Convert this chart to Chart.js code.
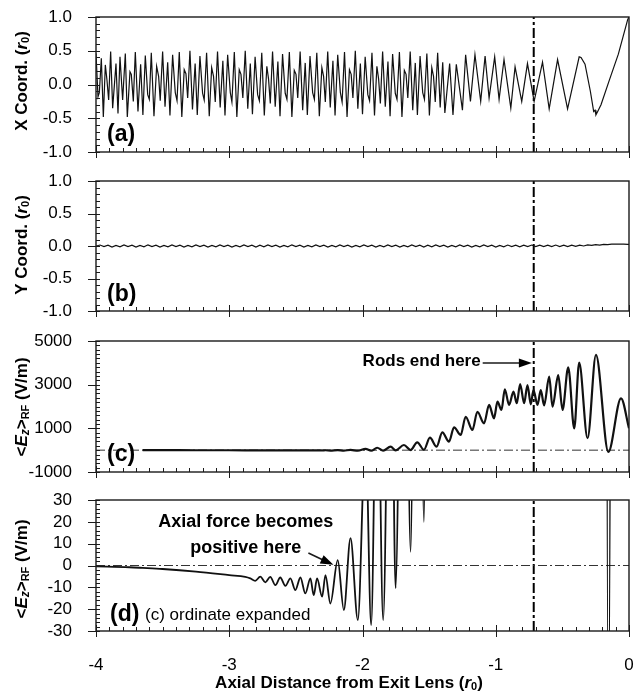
<!DOCTYPE html>
<html>
<head>
<meta charset="utf-8">
<script src="https://cdn.jsdelivr.net/npm/chart.js@4.4.1/dist/chart.umd.min.js"></script>
<style>
  body { margin: 0; background: #fff; }
  canvas { position: absolute; left: 0; top: 0; }
</style>
</head>
<body>
<canvas id="panelA" width="636" height="693"></canvas>
<canvas id="panelB" width="636" height="693"></canvas>
<canvas id="panelC" width="636" height="693"></canvas>
<canvas id="panelD" width="636" height="693"></canvas>
<script>
// axial distance from exit lens (r0)
const xMin = -4, xMax = 0;
const xTicks = [-4, -3, -2, -1, 0];
const rodsEndX = -0.715;   // rods end here

const yTicksA = [-1, -0.5, 0, 0.5, 1];
const yTicksB = [-1, -0.5, 0, 0.5, 1];
const yTicksC = [-1000, 1000, 3000, 5000];
const yTicksD = [-30, -20, -10, 0, 10, 20, 30];

// (a) X coordinate (r0): [axial, x]
const xCoordPts = [
  [-4.000,0.46],[-3.985,-0.18],[-3.975,-0.12],[-3.960,0.39],[-3.945,-0.48],[-3.930,0.29],[-3.918,0.07],[-3.905,-0.23],
  [-3.890,0.49],[-3.875,-0.35],[-3.850,0.31],[-3.835,-0.43],[-3.820,0.41],[-3.800,-0.23],[-3.780,0.46],[-3.765,-0.48],
  [-3.745,0.19],[-3.735,0.15],[-3.720,-0.25],[-3.705,0.48],[-3.685,-0.40],[-3.665,0.30],[-3.648,-0.45],[-3.630,0.43],
  [-3.612,-0.15],[-3.600,-0.22],[-3.585,0.47],[-3.565,-0.47],[-3.545,0.27],[-3.530,0.12],[-3.518,-0.24],[-3.500,0.49],
  [-3.482,-0.33],[-3.462,0.33],[-3.445,-0.46],[-3.425,0.44],[-3.405,-0.12],[-3.392,-0.24],[-3.375,0.48],[-3.356,-0.48],
  [-3.338,0.22],[-3.325,0.16],[-3.312,-0.20],[-3.295,0.50],[-3.276,-0.37],[-3.256,0.31],[-3.240,-0.45],[-3.220,0.42],
  [-3.200,-0.13],[-3.188,-0.23],[-3.170,0.47],[-3.150,-0.47],[-3.132,0.25],[-3.118,0.12],[-3.105,-0.26],[-3.088,0.49],
  [-3.068,-0.34],[-3.048,0.35],[-3.032,-0.46],[-3.012,0.44],[-2.992,-0.12],[-2.980,-0.26],[-2.962,0.48],[-2.943,-0.48],
  [-2.925,0.22],[-2.912,0.15],[-2.898,-0.20],[-2.880,0.50],[-2.861,-0.36],[-2.842,0.31],[-2.826,-0.44],[-2.806,0.41],
  [-2.787,-0.15],[-2.774,-0.24],[-2.756,0.47],[-2.737,-0.46],[-2.718,0.27],[-2.705,0.08],[-2.692,-0.28],[-2.675,0.49],
  [-2.655,-0.33],[-2.635,0.34],[-2.619,-0.47],[-2.600,0.45],[-2.580,-0.13],[-2.567,-0.22],[-2.549,0.48],[-2.530,-0.48],
  [-2.512,0.21],[-2.499,0.15],[-2.486,-0.20],[-2.468,0.49],[-2.449,-0.38],[-2.430,0.32],[-2.414,-0.45],[-2.394,0.42],
  [-2.374,-0.12],[-2.361,-0.22],[-2.343,0.47],[-2.324,-0.47],[-2.305,0.25],[-2.292,0.12],[-2.279,-0.26],[-2.261,0.49],
  [-2.242,-0.34],[-2.222,0.35],[-2.206,-0.46],[-2.186,0.44],[-2.166,-0.12],[-2.153,-0.26],[-2.135,0.48],[-2.116,-0.48],
  [-2.098,0.22],[-2.085,0.15],[-2.072,-0.20],[-2.054,0.50],[-2.035,-0.36],[-2.016,0.31],[-2.000,-0.44],[-1.980,0.41],
  [-1.960,-0.15],[-1.947,-0.24],[-1.929,0.47],[-1.910,-0.46],[-1.892,0.27],[-1.879,0.08],[-1.866,-0.28],[-1.849,0.49],
  [-1.829,-0.33],[-1.809,0.34],[-1.793,-0.47],[-1.774,0.45],[-1.754,-0.13],[-1.741,-0.22],[-1.723,0.48],[-1.704,-0.48],
  [-1.686,0.21],[-1.673,0.15],[-1.660,-0.20],[-1.642,0.49],[-1.623,-0.38],[-1.604,0.32],[-1.588,-0.45],[-1.568,0.42],
  [-1.548,-0.12],[-1.535,-0.22],[-1.517,0.46],[-1.498,-0.46],[-1.480,0.25],[-1.467,0.12],[-1.454,-0.26],[-1.436,0.47],
  [-1.417,-0.34],[-1.398,0.33],[-1.382,-0.42],[-1.346,0.31],[-1.321,-0.45],[-1.296,0.30],[-1.250,-0.38],[-1.226,0.44],
  [-1.190,-0.25],[-1.156,0.44],[-1.113,-0.25],[-1.080,0.42],[-1.050,-0.20],[-1.008,0.41],[-0.975,-0.22],[-0.938,0.37],
  [-0.887,-0.35],[-0.855,0.26],[-0.805,-0.25],[-0.762,0.31],[-0.712,-0.25],[-0.649,0.33],[-0.599,-0.36],[-0.536,0.37],
  [-0.461,-0.36],[-0.374,0.41],[-0.360,0.40],[-0.330,0.30],[-0.290,-0.10],[-0.265,-0.40],[-0.255,-0.38],[-0.248,-0.45],
  [-0.235,-0.40],[-0.210,-0.30],[-0.150,0.05],[-0.080,0.45],[-0.010,0.96],[0.000,1.00]
];

// (b) Y coordinate (r0): [axial, y]
const yCoordPts = [
  [-4.00,0],[-3.97,0.015],[-3.94,-0.01],[-3.91,0.012],[-3.88,-0.015],[-3.85,0.01],[-3.82,-0.012],
  [-3.79,0.015],[-3.76,-0.01],[-3.73,0.012],[-3.70,-0.015],[-3.67,0.01],[-3.64,-0.012],
  [-3.61,0.018],[-3.58,-0.008],[-3.55,0.012],[-3.52,-0.015],[-3.49,0.01],[-3.46,-0.012],
  [-3.43,0.015],[-3.40,-0.01],[-3.37,0.012],[-3.34,-0.015],[-3.31,0.01],[-3.28,-0.012],
  [-3.25,0.015],[-3.22,-0.01],[-3.19,0.014],[-3.16,-0.015],[-3.13,0.01],[-3.10,-0.012],
  [-3.07,0.015],[-3.04,-0.01],[-3.01,0.012],[-2.98,-0.015],[-2.95,0.01],[-2.92,-0.012],
  [-2.89,0.015],[-2.86,-0.01],[-2.83,0.012],[-2.80,-0.015],[-2.77,0.012],[-2.74,-0.012],
  [-2.71,0.015],[-2.68,-0.01],[-2.65,0.012],[-2.62,-0.015],[-2.59,0.01],[-2.56,-0.012],
  [-2.53,0.018],[-2.50,-0.01],[-2.47,0.012],[-2.44,-0.015],[-2.41,0.01],[-2.38,-0.012],
  [-2.35,0.015],[-2.32,-0.01],[-2.29,0.012],[-2.26,-0.015],[-2.23,0.01],[-2.20,-0.012],
  [-2.17,0.015],[-2.14,-0.01],[-2.11,0.012],[-2.08,-0.015],[-2.05,0.01],[-2.02,-0.012],
  [-1.99,0.015],[-1.96,-0.01],[-1.93,0.014],[-1.90,-0.015],[-1.87,0.01],[-1.84,-0.012],
  [-1.81,0.015],[-1.78,-0.01],[-1.75,0.012],[-1.72,-0.015],[-1.69,0.01],[-1.66,-0.012],
  [-1.63,0.015],[-1.60,-0.01],[-1.57,0.012],[-1.54,-0.015],[-1.51,0.012],[-1.48,-0.012],
  [-1.45,0.015],[-1.42,-0.01],[-1.39,0.012],[-1.36,-0.015],[-1.33,0.01],[-1.30,-0.012],
  [-1.27,0.015],[-1.24,-0.01],[-1.21,0.012],[-1.18,-0.015],[-1.15,0.01],[-1.12,-0.012],
  [-1.09,0.015],[-1.06,-0.01],[-1.03,0.012],[-1.00,-0.015],[-0.97,0.01],[-0.94,-0.012],
  [-0.91,0.015],[-0.88,-0.008],[-0.85,0.012],[-0.82,-0.012],[-0.79,0.012],[-0.76,-0.01],
  [-0.73,0.015],[-0.70,-0.008],[-0.67,0.014],[-0.64,-0.01],[-0.61,0.012],[-0.58,-0.01],
  [-0.55,0.015],[-0.52,-0.008],[-0.49,0.012],[-0.46,-0.01],[-0.43,0.012],[-0.40,-0.006],
  [-0.37,0.012],[-0.34,0.0],[-0.31,0.018],[-0.28,0.01],[-0.25,0.02],[-0.22,0.015],[-0.19,0.025],
  [-0.16,0.02],[-0.13,0.03],[-0.10,0.028],[-0.07,0.03],[-0.04,0.028],[-0.01,0.025],[0.00,0.025]
];

// (c)/(d) <Ez>RF (V/m): [axial, Ez]; (d) is the same trace with the ordinate expanded
const ezPts = [
  [-4.000,-0.4],[-3.750,-0.8],[-3.650,-1.1],[-3.500,-1.6],[-3.250,-2.8],[-3.000,-4.4],[-2.880,-5.2],
  [-2.842,-5.9],[-2.805,-7.0],[-2.767,-5.1],[-2.729,-7.7],[-2.692,-5.2],[-2.654,-9.0],[-2.617,-5.5],
  [-2.579,-9.3],[-2.541,-5.9],[-2.504,-11.3],[-2.466,-5.5],[-2.429,-12.8],[-2.391,-5.9],[-2.366,-13.6],
  [-2.341,-5.9],[-2.303,-14.3],[-2.278,-4.4],[-2.241,-17.4],[-2.186,2.5],[-2.140,-20.4],[-2.090,12.5],
  [-2.035,-25.0],[-1.977,60],[-1.935,-27.3],[-1.890,110],[-1.845,-25.0],[-1.789,160],[-1.752,-10.4],
  [-1.689,237],[-1.639,6.3],[-1.589,360],[-1.539,20],[-1.494,570],[-1.444,160],[-1.401,815],[-1.351,390],
  [-1.313,1045],[-1.263,695],[-1.226,1530],[-1.175,925],[-1.138,1760],[-1.088,1230],[-1.050,2070],
  [-1.013,1460],[-0.987,2220],[-0.957,1840],[-0.932,2790],[-0.900,2070],[-0.867,2680],[-0.842,2150],
  [-0.817,3030],[-0.787,2150],[-0.762,2985],[-0.737,2100],[-0.717,2750],[-0.687,2070],[-0.662,2750],
  [-0.637,2050],[-0.599,3365],[-0.574,1990],[-0.531,3440],[-0.499,1840],[-0.456,3795],[-0.411,1000],
  [-0.374,4005],[-0.311,545],[-0.248,4360],[-0.155,-80],[-0.060,2375],[0.000,1000]
];
const cStartX = -3.65;   // in (c) the trace is only drawn from here

const FONT = '"Liberation Sans", Arial, Helvetica, sans-serif';
const f = (style, size) => style + ' ' + size + 'px ' + FONT;

function toXY(pts) { return pts.map(p => ({ x: p[0], y: p[1] })); }

function traceSet(pts, width, smooth) {
  return {
    data: toXY(pts), showLine: true, pointRadius: 0, borderColor: '#111', borderWidth: width,
    cubicInterpolationMode: smooth ? 'monotone' : 'default', tension: 0
  };
}
function rodsSet(yMin, yMax) {
  return {
    data: [{ x: rodsEndX, y: yMin }, { x: rodsEndX, y: yMax }], showLine: true, pointRadius: 0,
    borderColor: '#000', borderWidth: 2, borderDash: [10, 3, 3, 3]
  };
}
function zeroSet() {
  return {
    data: [{ x: xMin, y: 0 }, { x: xMax, y: 0 }], showLine: true, pointRadius: 0,
    borderColor: '#333', borderWidth: 1, borderDash: [9, 3, 2, 3]
  };
}

// mixed style text (italic, subscripts) on the canvas
function drawRich(ctx, segs, x, y, align, rotate) {
  ctx.save();
  ctx.translate(x, y);
  if (rotate) ctx.rotate(-Math.PI / 2);
  let w = 0;
  segs.forEach(s => { ctx.font = s.f; w += ctx.measureText(s.t).width; });
  let cx = align === 'center' ? -w / 2 : (align === 'right' ? -w : 0);
  ctx.textBaseline = 'middle';
  ctx.fillStyle = '#000';
  segs.forEach(s => { ctx.font = s.f; ctx.fillText(s.t, cx, s.dy || 0); cx += ctx.measureText(s.t).width; });
  ctx.restore();
}

function arrow(ctx, x1, y1, x2, y2) {
  const ang = Math.atan2(y2 - y1, x2 - x1);
  ctx.lineWidth = 1.6;
  ctx.beginPath(); ctx.moveTo(x1, y1); ctx.lineTo(x2 - 8 * Math.cos(ang), y2 - 8 * Math.sin(ang)); ctx.stroke();
  ctx.beginPath();
  ctx.moveTo(x2, y2);
  ctx.lineTo(x2 - 13 * Math.cos(ang) + 4.5 * Math.sin(ang), y2 - 13 * Math.sin(ang) - 4.5 * Math.cos(ang));
  ctx.lineTo(x2 - 13 * Math.cos(ang) - 4.5 * Math.sin(ang), y2 - 13 * Math.sin(ang) + 4.5 * Math.cos(ang));
  ctx.closePath(); ctx.fill();
}

// frame, inner minor ticks, titles and notes for one panel
function makeDeco(cfg) {
  return {
    id: 'deco_' + cfg.id,
    afterDatasetsDraw(chart) {
      const { ctx, chartArea: a, scales: { x, y } } = chart;
      ctx.save();
      ctx.strokeStyle = '#1a1a1a';
      ctx.fillStyle = '#000';
      ctx.lineWidth = 1.4;
      ctx.strokeRect(a.left, a.top, a.right - a.left, a.bottom - a.top);

      ctx.lineWidth = 1;
      ctx.beginPath();
      for (let i = 0; i <= 40; i++) {
        const px = Math.round(x.getPixelForValue(xMin + i * 0.1)) + 0.5;
        ctx.moveTo(px, a.bottom); ctx.lineTo(px, a.bottom - 4);
      }
      xTicks.forEach(v => {
        const px = Math.round(x.getPixelForValue(v)) + 0.5;
        ctx.moveTo(px, a.bottom + 6); ctx.lineTo(px, a.bottom - 6);
      });
      const nMinor = Math.round((cfg.yMax - cfg.yMin) / cfg.yMinor);
      for (let i = 0; i <= nMinor; i++) {
        const py = Math.round(y.getPixelForValue(cfg.yMin + i * cfg.yMinor)) + 0.5;
        ctx.moveTo(a.left, py); ctx.lineTo(a.left + 4, py);
      }
      cfg.yTicks.forEach(v => {
        const py = Math.round(y.getPixelForValue(v)) + 0.5;
        ctx.moveTo(a.left - 8, py); ctx.lineTo(a.left + 2, py);
      });
      ctx.stroke();

      drawRich(ctx, cfg.title, 22, cfg.titleY, 'center', true);
      (cfg.notes || []).forEach(n =>
        drawRich(ctx, n.segs, x.getPixelForValue(n.x), y.getPixelForValue(n.y), n.align, false));
      (cfg.arrows || []).forEach(r =>
        arrow(ctx, x.getPixelForValue(r[0]), y.getPixelForValue(r[1]), x.getPixelForValue(r[2]), y.getPixelForValue(r[3])));
      if (cfg.xTitle) drawRich(ctx, cfg.xTitle, 349, 683, 'center', false);
      ctx.restore();
    }
  };
}

function panelChart(cfg) {
  return new Chart(document.getElementById(cfg.id), {
    type: 'scatter',
    data: { datasets: cfg.datasets },
    options: {
      responsive: false,
      animation: false,
      events: [],
      layout: { padding: { left: 0, right: 7, top: cfg.top, bottom: cfg.bottom } },
      plugins: { legend: { display: false }, tooltip: { enabled: false } },
      scales: {
        x: {
          type: 'linear', min: xMin, max: xMax, display: !!cfg.showX,
          grid: { display: false }, border: { display: false },
          afterBuildTicks: s => { s.ticks = xTicks.map(v => ({ value: v })); },
          afterFit: s => {
            s.paddingLeft = 0; s.paddingRight = 0;
            if (cfg.showX) s.height = 62;
          },
          ticks: { font: { family: FONT, size: 17 }, color: '#000', padding: 16, maxRotation: 0, autoSkip: false }
        },
        y: {
          type: 'linear', min: cfg.yMin, max: cfg.yMax,
          grid: { display: false }, border: { display: false },
          afterBuildTicks: s => { s.ticks = cfg.yTicks.map(v => ({ value: v })); },
          afterFit: s => { s.width = 96; s.paddingTop = 0; s.paddingBottom = 0; },
          ticks: { font: { family: FONT, size: 17 }, color: '#000', padding: 16, autoSkip: false, callback: cfg.fmt }
        }
      }
    },
    plugins: [makeDeco(cfg)]
  });
}

const rTitle = (lead) => [
  { t: lead + ' (', f: f('bold', 17) }, { t: 'r', f: f('italic bold', 17) },
  { t: '0', f: f('bold', 11), dy: 4 }, { t: ')', f: f('bold', 17) }
];
const ezTitle = [
  { t: '<', f: f('bold', 17) }, { t: 'E', f: f('italic bold', 17) }, { t: 'z', f: f('italic bold', 12), dy: 4 },
  { t: '>', f: f('bold', 17) }, { t: 'RF', f: f('bold', 11), dy: 4 }, { t: ' (V/m)', f: f('bold', 17) }
];
const oneDec = v => v.toFixed(1);
const plain = v => String(v);

panelChart({
  id: 'panelA', top: 17, bottom: 693 - 152, yMin: -1, yMax: 1, yTicks: yTicksA, yMinor: 0.1, fmt: oneDec,
  datasets: [traceSet(xCoordPts, 1.2, false), rodsSet(-1, 1)],
  title: rTitle('X Coord.'), titleY: 81,
  notes: [{ segs: [{ t: '(a)', f: f('bold', 23) }], x: -3.917, y: -0.75, align: 'left' }]
});

panelChart({
  id: 'panelB', top: 181, bottom: 693 - 311, yMin: -1, yMax: 1, yTicks: yTicksB, yMinor: 0.1, fmt: oneDec,
  datasets: [traceSet(yCoordPts, 1.2, false), rodsSet(-1, 1)],
  title: rTitle('Y Coord.'), titleY: 245,
  notes: [{ segs: [{ t: '(b)', f: f('bold', 23) }], x: -3.917, y: -0.75, align: 'left' }]
});

panelChart({
  id: 'panelC', top: 341, bottom: 693 - 472, yMin: -1000, yMax: 5000, yTicks: yTicksC, yMinor: 200, fmt: plain,
  datasets: [traceSet(ezPts.filter(p => p[0] >= cStartX), 2.2, true), zeroSet(), rodsSet(-1000, 5000)],
  title: ezTitle, titleY: 407,
  notes: [
    { segs: [{ t: '(c)', f: f('bold', 23) }], x: -3.917, y: -200, align: 'left' },
    { segs: [{ t: 'Rods end here', f: f('bold', 17) }], x: -1.113, y: 4080, align: 'right' }
  ],
  arrows: [[-1.098, 3990, -0.729, 3990]]
});

panelChart({
  id: 'panelD', top: 500, bottom: 0, showX: true, yMin: -30, yMax: 30, yTicks: yTicksD, yMinor: 2, fmt: plain,
  datasets: [traceSet(ezPts, 1.8, true), zeroSet(), rodsSet(-30, 30)],
  title: ezTitle, titleY: 569,
  notes: [
    { segs: [{ t: '(d)', f: f('bold', 23) }], x: -3.895, y: -22.7, align: 'left' },
    { segs: [{ t: '(c) ordinate expanded', f: f('', 17) }], x: -3.632, y: -22.7, align: 'left' },
    { segs: [{ t: 'Axial force becomes', f: f('bold', 18) }], x: -2.876, y: 20, align: 'center' },
    { segs: [{ t: 'positive here', f: f('bold', 18) }], x: -2.876, y: 8, align: 'center' }
  ],
  arrows: [[-2.406, 5.7, -2.218, 0.3]],
  xTitle: [
    { t: 'Axial Distance from Exit Lens (', f: f('bold', 17) }, { t: 'r', f: f('italic bold', 17) },
    { t: '0', f: f('bold', 11), dy: 4 }, { t: ')', f: f('bold', 17) }
  ]
});
</script>
</body>
</html>
